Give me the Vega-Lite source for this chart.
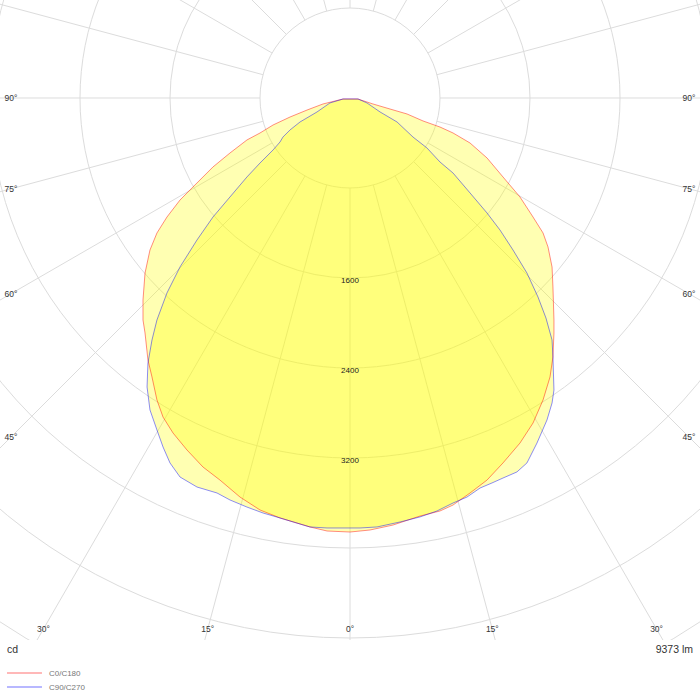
{
  "$schema": "https://vega.github.io/schema/vega-lite/v6.json",
  "width": 700,
  "height": 640,
  "padding": 0,
  "background": "#ffffff",
  "datasets": {
    "rings": [
      {"x": 0, "y": 0, "r": 800}, {"x": 0, "y": 0, "r": 1600}, {"x": 0, "y": 0, "r": 2400},
      {"x": 0, "y": 0, "r": 3200}, {"x": 0, "y": 0, "r": 4000}, {"x": 0, "y": 0, "r": 4800},
      {"x": 0, "y": 0, "r": 5600}
    ],
    "spokes": [
      {"x": 0, "y": -800, "x2": 0, "y2": -9000},
      {"x": 207, "y": -773, "x2": 2329, "y2": -8693},
      {"x": 400, "y": -693, "x2": 4500, "y2": -7794},
      {"x": 566, "y": -566, "x2": 6364, "y2": -6364},
      {"x": 693, "y": -400, "x2": 7794, "y2": -4500},
      {"x": 773, "y": -207, "x2": 8693, "y2": -2329},
      {"x": 800, "y": 0, "x2": 9000, "y2": 0},
      {"x": 773, "y": 207, "x2": 8693, "y2": 2329},
      {"x": 693, "y": 400, "x2": 7794, "y2": 4500},
      {"x": 566, "y": 566, "x2": 6364, "y2": 6364},
      {"x": 400, "y": 693, "x2": 4500, "y2": 7794},
      {"x": 207, "y": 773, "x2": 2329, "y2": 8693},
      {"x": 0, "y": 800, "x2": 0, "y2": 9000},
      {"x": -207, "y": -773, "x2": -2329, "y2": -8693},
      {"x": -400, "y": -693, "x2": -4500, "y2": -7794},
      {"x": -566, "y": -566, "x2": -6364, "y2": -6364},
      {"x": -693, "y": -400, "x2": -7794, "y2": -4500},
      {"x": -773, "y": -207, "x2": -8693, "y2": -2329},
      {"x": -800, "y": 0, "x2": -9000, "y2": 0},
      {"x": -773, "y": 207, "x2": -8693, "y2": 2329},
      {"x": -693, "y": 400, "x2": -7794, "y2": 4500},
      {"x": -566, "y": 566, "x2": -6364, "y2": 6364},
      {"x": -400, "y": 693, "x2": -4500, "y2": 7794},
      {"x": -207, "y": 773, "x2": -2329, "y2": 8693}
    ],
    "curves": [
      {"s": "C0/C180", "i": 0, "x": -62, "y": -9},
      {"s": "C0/C180", "i": 1, "x": -240, "y": -53},
      {"s": "C0/C180", "i": 2, "x": -382, "y": -107},
      {"s": "C0/C180", "i": 3, "x": -533, "y": -169},
      {"s": "C0/C180", "i": 4, "x": -684, "y": -240},
      {"s": "C0/C180", "i": 5, "x": -800, "y": -311},
      {"s": "C0/C180", "i": 6, "x": -916, "y": -373},
      {"s": "C0/C180", "i": 7, "x": -1067, "y": -489},
      {"s": "C0/C180", "i": 8, "x": -1218, "y": -613},
      {"s": "C0/C180", "i": 9, "x": -1396, "y": -791},
      {"s": "C0/C180", "i": 10, "x": -1511, "y": -907},
      {"s": "C0/C180", "i": 11, "x": -1627, "y": -1058},
      {"s": "C0/C180", "i": 12, "x": -1716, "y": -1200},
      {"s": "C0/C180", "i": 13, "x": -1778, "y": -1351},
      {"s": "C0/C180", "i": 14, "x": -1822, "y": -1556},
      {"s": "C0/C180", "i": 15, "x": -1840, "y": -1796},
      {"s": "C0/C180", "i": 16, "x": -1840, "y": -1973},
      {"s": "C0/C180", "i": 17, "x": -1822, "y": -2089},
      {"s": "C0/C180", "i": 18, "x": -1796, "y": -2329},
      {"s": "C0/C180", "i": 19, "x": -1760, "y": -2480},
      {"s": "C0/C180", "i": 20, "x": -1716, "y": -2684},
      {"s": "C0/C180", "i": 21, "x": -1662, "y": -2836},
      {"s": "C0/C180", "i": 22, "x": -1573, "y": -2978},
      {"s": "C0/C180", "i": 23, "x": -1449, "y": -3129},
      {"s": "C0/C180", "i": 24, "x": -1307, "y": -3280},
      {"s": "C0/C180", "i": 25, "x": -1156, "y": -3396},
      {"s": "C0/C180", "i": 26, "x": -978, "y": -3547},
      {"s": "C0/C180", "i": 27, "x": -800, "y": -3662},
      {"s": "C0/C180", "i": 28, "x": -622, "y": -3733},
      {"s": "C0/C180", "i": 29, "x": -356, "y": -3813},
      {"s": "C0/C180", "i": 30, "x": -204, "y": -3849},
      {"s": "C0/C180", "i": 31, "x": 0, "y": -3858},
      {"s": "C0/C180", "i": 32, "x": 178, "y": -3840},
      {"s": "C0/C180", "i": 33, "x": 382, "y": -3796},
      {"s": "C0/C180", "i": 34, "x": 622, "y": -3716},
      {"s": "C0/C180", "i": 35, "x": 800, "y": -3671},
      {"s": "C0/C180", "i": 36, "x": 916, "y": -3618},
      {"s": "C0/C180", "i": 37, "x": 1067, "y": -3511},
      {"s": "C0/C180", "i": 38, "x": 1218, "y": -3396},
      {"s": "C0/C180", "i": 39, "x": 1360, "y": -3244},
      {"s": "C0/C180", "i": 40, "x": 1511, "y": -3067},
      {"s": "C0/C180", "i": 41, "x": 1627, "y": -2889},
      {"s": "C0/C180", "i": 42, "x": 1716, "y": -2684},
      {"s": "C0/C180", "i": 43, "x": 1778, "y": -2480},
      {"s": "C0/C180", "i": 44, "x": 1804, "y": -2302},
      {"s": "C0/C180", "i": 45, "x": 1813, "y": -2089},
      {"s": "C0/C180", "i": 46, "x": 1813, "y": -1973},
      {"s": "C0/C180", "i": 47, "x": 1804, "y": -1680},
      {"s": "C0/C180", "i": 48, "x": 1796, "y": -1502},
      {"s": "C0/C180", "i": 49, "x": 1760, "y": -1324},
      {"s": "C0/C180", "i": 50, "x": 1716, "y": -1200},
      {"s": "C0/C180", "i": 51, "x": 1627, "y": -1058},
      {"s": "C0/C180", "i": 52, "x": 1511, "y": -880},
      {"s": "C0/C180", "i": 53, "x": 1360, "y": -702},
      {"s": "C0/C180", "i": 54, "x": 1218, "y": -533},
      {"s": "C0/C180", "i": 55, "x": 1067, "y": -400},
      {"s": "C0/C180", "i": 56, "x": 916, "y": -311},
      {"s": "C0/C180", "i": 57, "x": 800, "y": -258},
      {"s": "C0/C180", "i": 58, "x": 649, "y": -204},
      {"s": "C0/C180", "i": 59, "x": 507, "y": -142},
      {"s": "C0/C180", "i": 60, "x": 356, "y": -98},
      {"s": "C0/C180", "i": 61, "x": 204, "y": -53},
      {"s": "C0/C180", "i": 62, "x": 71, "y": -9},
      {"s": "C0/C180", "i": 63, "x": -62, "y": -9},
      {"s": "C90/C270", "i": 0, "x": -62, "y": -9},
      {"s": "C90/C270", "i": 1, "x": -178, "y": -44},
      {"s": "C90/C270", "i": 2, "x": -293, "y": -124},
      {"s": "C90/C270", "i": 3, "x": -444, "y": -213},
      {"s": "C90/C270", "i": 4, "x": -533, "y": -284},
      {"s": "C90/C270", "i": 5, "x": -596, "y": -347},
      {"s": "C90/C270", "i": 6, "x": -622, "y": -391},
      {"s": "C90/C270", "i": 7, "x": -684, "y": -462},
      {"s": "C90/C270", "i": 8, "x": -800, "y": -578},
      {"s": "C90/C270", "i": 9, "x": -916, "y": -702},
      {"s": "C90/C270", "i": 10, "x": -1067, "y": -880},
      {"s": "C90/C270", "i": 11, "x": -1218, "y": -1058},
      {"s": "C90/C270", "i": 12, "x": -1360, "y": -1262},
      {"s": "C90/C270", "i": 13, "x": -1511, "y": -1502},
      {"s": "C90/C270", "i": 14, "x": -1627, "y": -1733},
      {"s": "C90/C270", "i": 15, "x": -1716, "y": -1973},
      {"s": "C90/C270", "i": 16, "x": -1760, "y": -2151},
      {"s": "C90/C270", "i": 17, "x": -1796, "y": -2356},
      {"s": "C90/C270", "i": 18, "x": -1804, "y": -2569},
      {"s": "C90/C270", "i": 19, "x": -1778, "y": -2773},
      {"s": "C90/C270", "i": 20, "x": -1716, "y": -2951},
      {"s": "C90/C270", "i": 21, "x": -1662, "y": -3102},
      {"s": "C90/C270", "i": 22, "x": -1600, "y": -3244},
      {"s": "C90/C270", "i": 23, "x": -1511, "y": -3369},
      {"s": "C90/C270", "i": 24, "x": -1360, "y": -3458},
      {"s": "C90/C270", "i": 25, "x": -1182, "y": -3511},
      {"s": "C90/C270", "i": 26, "x": -1067, "y": -3573},
      {"s": "C90/C270", "i": 27, "x": -916, "y": -3636},
      {"s": "C90/C270", "i": 28, "x": -773, "y": -3689},
      {"s": "C90/C270", "i": 29, "x": -622, "y": -3733},
      {"s": "C90/C270", "i": 30, "x": -356, "y": -3813},
      {"s": "C90/C270", "i": 31, "x": -204, "y": -3822},
      {"s": "C90/C270", "i": 32, "x": 0, "y": -3822},
      {"s": "C90/C270", "i": 33, "x": 89, "y": -3822},
      {"s": "C90/C270", "i": 34, "x": 240, "y": -3813},
      {"s": "C90/C270", "i": 35, "x": 444, "y": -3769},
      {"s": "C90/C270", "i": 36, "x": 622, "y": -3724},
      {"s": "C90/C270", "i": 37, "x": 773, "y": -3671},
      {"s": "C90/C270", "i": 38, "x": 916, "y": -3600},
      {"s": "C90/C270", "i": 39, "x": 1040, "y": -3547},
      {"s": "C90/C270", "i": 40, "x": 1156, "y": -3467},
      {"s": "C90/C270", "i": 41, "x": 1262, "y": -3422},
      {"s": "C90/C270", "i": 42, "x": 1360, "y": -3378},
      {"s": "C90/C270", "i": 43, "x": 1484, "y": -3324},
      {"s": "C90/C270", "i": 44, "x": 1573, "y": -3244},
      {"s": "C90/C270", "i": 45, "x": 1662, "y": -3067},
      {"s": "C90/C270", "i": 46, "x": 1751, "y": -2862},
      {"s": "C90/C270", "i": 47, "x": 1796, "y": -2711},
      {"s": "C90/C270", "i": 48, "x": 1813, "y": -2596},
      {"s": "C90/C270", "i": 49, "x": 1804, "y": -2302},
      {"s": "C90/C270", "i": 50, "x": 1796, "y": -2151},
      {"s": "C90/C270", "i": 51, "x": 1742, "y": -1956},
      {"s": "C90/C270", "i": 52, "x": 1671, "y": -1769},
      {"s": "C90/C270", "i": 53, "x": 1573, "y": -1556},
      {"s": "C90/C270", "i": 54, "x": 1449, "y": -1351},
      {"s": "C90/C270", "i": 55, "x": 1333, "y": -1173},
      {"s": "C90/C270", "i": 56, "x": 1218, "y": -1022},
      {"s": "C90/C270", "i": 57, "x": 1067, "y": -844},
      {"s": "C90/C270", "i": 58, "x": 916, "y": -667},
      {"s": "C90/C270", "i": 59, "x": 800, "y": -569},
      {"s": "C90/C270", "i": 60, "x": 684, "y": -444},
      {"s": "C90/C270", "i": 61, "x": 560, "y": -347},
      {"s": "C90/C270", "i": 62, "x": 418, "y": -213},
      {"s": "C90/C270", "i": 63, "x": 267, "y": -124},
      {"s": "C90/C270", "i": 64, "x": 151, "y": -44},
      {"s": "C90/C270", "i": 65, "x": 71, "y": -9},
      {"s": "C90/C270", "i": 66, "x": -62, "y": -9}
    ],
    "ringLabels": [
      {"x": 0, "y": -1600, "t": "1600"},
      {"x": 0, "y": -2400, "t": "2400"},
      {"x": 0, "y": -3200, "t": "3200"}
    ],
    "angleLabels": [
      {"x": -3013, "y": 0, "t": "90°"},
      {"x": -3013, "y": -807, "t": "75°"},
      {"x": -3013, "y": -1740, "t": "60°"},
      {"x": -3013, "y": -3013, "t": "45°"},
      {"x": -2725, "y": -4720, "t": "30°"},
      {"x": -1265, "y": -4720, "t": "15°"},
      {"x": 0, "y": -4720, "t": "0°"},
      {"x": 1265, "y": -4720, "t": "15°"},
      {"x": 2725, "y": -4720, "t": "30°"},
      {"x": 3013, "y": -3013, "t": "45°"},
      {"x": 3013, "y": -1740, "t": "60°"},
      {"x": 3013, "y": -807, "t": "75°"},
      {"x": 3013, "y": 0, "t": "90°"}
    ],
    "unit": [{"x": -3049, "y": -4907, "t": "cd"}],
    "flux": [{"x": 3049, "y": -4907, "t": "9373 lm"}],
    "key": [
      {"s": "C0/C180", "x": -3049, "x2": -2738, "y": -5111, "tx": -2676},
      {"s": "C90/C270", "x": -3049, "x2": -2738, "y": -5236, "tx": -2676}
    ]
  },
  "encoding": {
    "x": {"field": "x", "type": "quantitative", "axis": null,
      "scale": {"domain": [-3111.1, 3111.1], "nice": false, "zero": false}},
    "y": {"field": "y", "type": "quantitative", "axis": null,
      "scale": {"domain": [-4817.8, 871.1], "nice": false, "zero": false}}
  },
  "layer": [
    {
      "data": {"name": "rings"},
      "mark": {"type": "point", "shape": "circle", "filled": false, "clip": true,
        "stroke": "#dcdcdc", "strokeWidth": 1, "opacity": 1},
      "encoding": {
        "size": {"field": "r", "type": "quantitative", "legend": null,
          "scale": {"type": "pow", "exponent": 2, "domain": [0, 8000], "range": [0, 3240000]}}
      }
    },
    {
      "data": {"name": "spokes"},
      "mark": {"type": "rule", "clip": true, "stroke": "#dcdcdc", "strokeWidth": 1},
      "encoding": {
        "x2": {"field": "x2"},
        "y2": {"field": "y2"}
      }
    },
    {
      "data": {"name": "curves"},
      "mark": {"type": "line", "fill": "#ffff00", "fillOpacity": 0.3, "strokeWidth": 0, "interpolate": "linear"},
      "encoding": {
        "detail": {"field": "s"},
        "order": {"field": "i", "type": "quantitative"}
      }
    },
    {
      "data": {"name": "curves"},
      "mark": {"type": "line", "strokeWidth": 1, "strokeOpacity": 0.45},
      "encoding": {
        "color": {"field": "s", "type": "nominal", "legend": null,
          "scale": {"domain": ["C0/C180", "C90/C270"], "range": ["#ff0000", "#0000ff"]}},
        "order": {"field": "i", "type": "quantitative"}
      }
    },
    {
      "data": {"name": "ringLabels"},
      "mark": {"type": "text", "font": "Liberation Sans", "fontSize": 8, "fill": "#222222", "baseline": "middle", "dy": 3},
      "encoding": {"text": {"field": "t"}}
    },
    {
      "data": {"name": "angleLabels"},
      "mark": {"type": "text", "font": "Liberation Sans", "fontSize": 8.5, "fill": "#333333", "align": "center", "baseline": "middle"},
      "encoding": {"text": {"field": "t"}}
    },
    {
      "data": {"name": "unit"},
      "mark": {"type": "text", "font": "Liberation Sans", "fontSize": 10.5, "fill": "#333333", "align": "left", "baseline": "middle"},
      "encoding": {"text": {"field": "t"}}
    },
    {
      "data": {"name": "flux"},
      "mark": {"type": "text", "font": "Liberation Sans", "fontSize": 10.5, "fill": "#333333", "align": "right", "baseline": "middle"},
      "encoding": {"text": {"field": "t"}}
    },
    {
      "data": {"name": "key"},
      "mark": {"type": "rule", "strokeWidth": 2, "strokeOpacity": 0.28},
      "encoding": {
        "x2": {"field": "x2"},
        "color": {"field": "s", "type": "nominal", "legend": null}
      }
    },
    {
      "data": {"name": "key"},
      "mark": {"type": "text", "font": "Liberation Sans", "fontSize": 8, "fill": "#777777", "align": "left", "baseline": "middle", "dy": 1},
      "encoding": {
        "x": {"field": "tx", "type": "quantitative"},
        "text": {"field": "s"}
      }
    }
  ],
  "config": {
    "view": {"stroke": null}
  }
}
